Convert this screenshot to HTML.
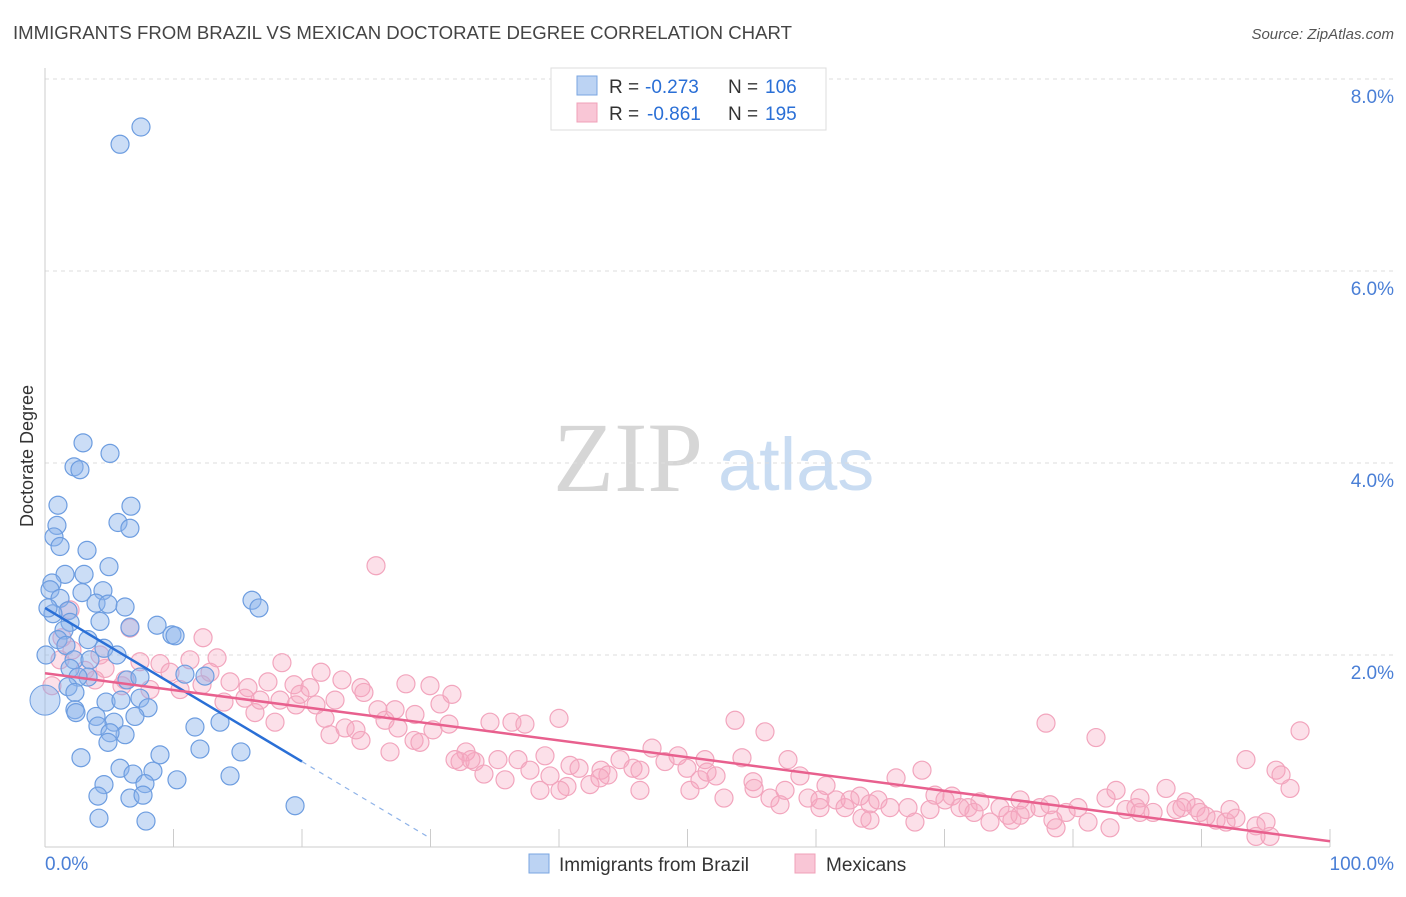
<!DOCTYPE html>
<html><head><meta charset="utf-8"><style>
body{margin:0;background:#fff;font-family:"Liberation Sans",sans-serif}
</style></head><body>
<svg id="chart" width="1406" height="892" viewBox="0 0 1406 892" xmlns="http://www.w3.org/2000/svg" font-family="Liberation Sans, sans-serif">
<text x="13" y="39" font-size="18.6" fill="#444">IMMIGRANTS FROM BRAZIL VS MEXICAN DOCTORATE DEGREE CORRELATION CHART</text>
<text x="1394" y="39" font-size="15" fill="#555" text-anchor="end" font-style="italic">Source: ZipAtlas.com</text>
<g>
<text x="553" y="491" font-size="100" style="font-family:'Liberation Serif',serif" fill="#d6d6d6">ZIP</text>
<text x="718" y="490" font-size="74" fill="#c9dcf2">atlas</text>
</g>
<g id="grid"></g>
<g id="axes"></g>
<g id="pinkPts"></g>
<g id="bluePts"></g>
<g id="trends"></g>
<text transform="translate(33,456) rotate(-90)" font-size="18" fill="#333" text-anchor="middle">Doctorate Degree</text>
<g>
<rect x="551" y="68" width="275" height="62" fill="#fff" stroke="#ddd"/>
<rect x="577" y="76" width="20" height="19" fill="#bcd3f3" stroke="#7aa6e0"/>
<rect x="577" y="103" width="20" height="19" fill="#f9c6d6" stroke="#f0a0b8"/>
<text x="609" y="93" font-size="19" fill="#333">R =</text>
<text x="645" y="93" font-size="19" fill="#2a6fd6">-0.273</text>
<text x="728" y="93" font-size="19" fill="#333">N =</text>
<text x="765" y="93" font-size="19" fill="#2a6fd6">106</text>
<text x="609" y="120" font-size="19" fill="#333">R =</text>
<text x="647" y="120" font-size="19" fill="#2a6fd6">-0.861</text>
<text x="728" y="120" font-size="19" fill="#333">N =</text>
<text x="765" y="120" font-size="19" fill="#2a6fd6">195</text>
</g>
<g>
<rect x="529" y="854" width="20" height="19" fill="#bcd3f3" stroke="#7aa6e0"/>
<text x="559" y="871" font-size="19" fill="#333">Immigrants from Brazil</text>
<rect x="795" y="854" width="20" height="19" fill="#f9c6d6" stroke="#f0a0b8"/>
<text x="826" y="871" font-size="19" fill="#333">Mexicans</text>
</g>
</svg>
<script>
const yTicks=[2,4,6,8];
const yTickLabels=["2.0%","4.0%","6.0%","8.0%"];
const xTickLabels=["0.0%","100.0%"];
const blueX=[7.47,5.84,2.96,2.26,2.72,5.06,1.01,6.69,0.93,5.68,6.61,0.70,1.17,3.27,4.98,1.56,3.04,0.54,0.39,1.17,2.88,4.51,3.97,4.90,6.23,16.11,16.65,1.79,0.62,1.95,4.28,6.61,8.72,9.88,10.12,3.35,1.48,1.01,1.63,4.59,5.60,2.26,3.50,1.95,10.89,12.45,3.35,6.38,7.39,2.57,1.79,2.33,4.75,5.91,7.39,8.02,2.33,2.41,3.97,7.00,13.62,11.67,4.12,5.37,6.23,5.06,4.90,12.06,8.95,15.25,2.80,5.84,8.40,6.85,14.40,10.27,4.59,7.78,4.12,6.61,7.63,19.46,4.20,7.86,0.08,0.23];
const blueY=[7.50,7.32,4.21,3.96,3.93,4.10,3.56,3.55,3.35,3.38,3.32,3.23,3.13,3.09,2.92,2.84,2.84,2.75,2.68,2.59,2.65,2.67,2.54,2.53,2.50,2.57,2.49,2.46,2.43,2.34,2.35,2.29,2.31,2.21,2.20,2.16,2.26,2.16,2.10,2.07,2.00,1.95,1.95,1.86,1.80,1.78,1.77,1.74,1.77,1.77,1.67,1.61,1.51,1.53,1.55,1.45,1.43,1.40,1.36,1.36,1.30,1.25,1.26,1.30,1.17,1.19,1.09,1.02,0.96,0.99,0.93,0.82,0.79,0.76,0.74,0.70,0.65,0.66,0.53,0.51,0.54,0.43,0.30,0.27,2.00,2.49];
const pinkX=[25.76,12.30,6.61,1.32,2.10,4.28,7.39,8.95,11.28,13.39,18.44,21.48,4.67,6.23,9.73,12.84,14.40,15.80,17.35,19.38,19.84,23.11,24.59,24.82,29.96,31.67,30.74,28.09,25.91,28.79,22.57,21.09,16.34,17.90,21.79,23.35,24.59,26.46,27.47,28.72,30.19,31.44,34.63,36.34,37.35,40.00,32.76,32.30,33.46,34.16,35.25,36.81,38.91,39.30,38.52,40.86,41.56,43.27,43.81,44.75,45.76,47.24,48.25,49.26,49.96,51.36,52.22,52.84,54.24,53.70,56.03,55.10,56.42,57.82,58.75,59.38,60.78,61.56,62.26,63.42,64.20,64.82,65.76,66.23,67.16,68.25,68.87,70.04,70.58,71.83,72.76,73.54,74.32,75.88,76.34,77.90,77.43,78.44,79.46,80.39,81.17,81.79,82.57,83.35,84.12,84.90,85.21,86.23,87.24,88.02,88.79,89.57,90.35,91.13,91.91,92.68,93.46,94.24,95.02,95.80,96.19,96.89,97.67,94.24,95.33,89.88,82.88,78.68,75.25,72.30,67.70,63.58,60.31,57.20,55.18,50.97,46.30,42.41,40.62,37.74,35.80,33.15,29.18,26.85,24.20,22.18,19.53,16.73,15.56,13.93,10.51,8.17,5.99,3.89,3.11,1.17,0.54,1.95,12.22,18.29,20.62,27.24,31.91,46.30,51.52,57.59,62.65,69.26,74.94,78.21,85.21,88.48,92.22,75.88,71.21,64.20,60.31,50.19,43.19,40.08];
const pinkY=[2.93,2.18,2.28,2.18,2.05,2.00,1.93,1.91,1.95,1.97,1.92,1.82,1.86,1.74,1.82,1.82,1.72,1.66,1.72,1.69,1.59,1.74,1.66,1.61,1.68,1.59,1.49,1.70,1.43,1.38,1.53,1.48,1.40,1.30,1.34,1.24,1.11,1.32,1.24,1.11,1.22,1.28,1.30,1.30,1.28,1.34,0.99,0.89,0.89,0.76,0.91,0.91,0.95,0.74,0.59,0.85,0.82,0.80,0.75,0.91,0.82,1.03,0.89,0.95,0.82,0.91,0.74,0.51,0.93,1.32,1.20,0.68,0.51,0.91,0.74,0.51,0.64,0.49,0.41,0.53,0.45,0.49,0.41,0.72,0.41,0.80,0.39,0.49,0.53,0.41,0.47,0.26,0.41,0.49,0.39,1.29,0.41,0.28,0.36,0.41,0.26,1.14,0.51,0.59,0.39,0.41,0.51,0.36,0.61,0.39,0.47,0.41,0.32,0.28,0.26,0.30,0.91,0.22,0.26,0.80,0.75,0.61,1.21,0.11,0.11,0.36,0.20,0.20,0.28,0.36,0.26,0.30,0.41,0.44,0.61,0.70,0.59,0.65,0.63,0.80,0.70,0.91,1.09,0.99,1.22,1.17,1.48,1.53,1.55,1.51,1.64,1.64,1.68,1.74,1.84,1.95,1.68,2.47,1.69,1.53,1.66,1.43,0.91,0.80,0.78,0.59,0.49,0.54,0.33,0.44,0.36,0.41,0.39,0.33,0.41,0.28,0.49,0.59,0.72,0.59];
const blueTrend=[2.49,-0.08];   // intercept, slope
const pinkTrend=[1.81,-0.0175];
const NS="http://www.w3.org/2000/svg";
const X0=45,X1=1330,Y0=847,PXU=96;
function sx(v){return X0+(X1-X0)*v/100;}
function sy(v){return Y0-v*PXU;}
function mk(tag,attrs,parent){const e=document.createElementNS(NS,tag);for(const k in attrs)e.setAttribute(k,attrs[k]);parent.appendChild(e);return e;}
const grid=document.getElementById('grid'),axes=document.getElementById('axes');
yTicks.forEach((t,i)=>{
  const l=mk('line',{x1:45,x2:1394,y1:sy(t),y2:sy(t),stroke:'#ddd','stroke-dasharray':'4,4'},grid);
  
  
  const tx=mk('text',{x:1394,y:sy(t)+24,'font-size':19,fill:'#4a7fd6','text-anchor':'end'},axes);
  tx.textContent=yTickLabels[i];
  
  
});
const topGrid=mk('line',{x1:45,x2:1394,y1:79,y2:79,stroke:'#ddd','stroke-dasharray':'4,4'},grid);


const ya=mk('line',{x1:45,x2:45,y1:68,y2:847,stroke:'#ccc'},axes);


const xa=mk('line',{x1:45,x2:1330,y1:847,y2:847,stroke:'#ccc'},axes);


for(let i=0;i<=10;i++){
  const tk=mk('line',{x1:sx(i*10),x2:sx(i*10),y1:829,y2:847,stroke:'#ccc'},axes);
  
  
}
[[45,'start',0],[1394,'end',1]].forEach(([x,a,i])=>{
  const tx=mk('text',{x:x,y:870,'font-size':19,fill:'#4a7fd6','text-anchor':a},axes);
  tx.textContent=xTickLabels[i];
  
  
});
const pg=document.getElementById('pinkPts');
pinkX.forEach((x,i)=>{
  const c=mk('circle',{cx:sx(x),cy:sy(pinkY[i]),r:9,fill:'rgba(245,165,192,0.35)',stroke:'#f2a5bd','stroke-width':1.2},pg);
  
  
});
const bg=document.getElementById('bluePts');
blueX.forEach((x,i)=>{
  const c=mk('circle',{cx:sx(x),cy:sy(blueY[i]),r:9,fill:'rgba(140,180,235,0.45)',stroke:'#6d9de0','stroke-width':1.2},bg);
  
  
});
const big=mk('circle',{cx:sx(0),cy:sy(1.53),r:15,fill:'rgba(140,180,235,0.45)',stroke:'#6d9de0'},bg);


const tr=document.getElementById('trends');
const f=(t,x)=>t[0]+t[1]*x;
const bl=mk('line',{x1:sx(0),y1:sy(f(blueTrend,0)),x2:sx(20),y2:sy(f(blueTrend,20)),stroke:'#2a6fd6','stroke-width':2.5},tr);


const bd=mk('line',{x1:sx(20),y1:sy(f(blueTrend,20)),x2:sx(30),y2:sy(f(blueTrend,30)),stroke:'#8fb3e8','stroke-width':1.2,'stroke-dasharray':'5,5'},tr);


const pl=mk('line',{x1:sx(0),y1:sy(f(pinkTrend,0)),x2:sx(100),y2:sy(f(pinkTrend,100)),stroke:'#e8608e','stroke-width':2.5},tr);


</script>
</body></html>
